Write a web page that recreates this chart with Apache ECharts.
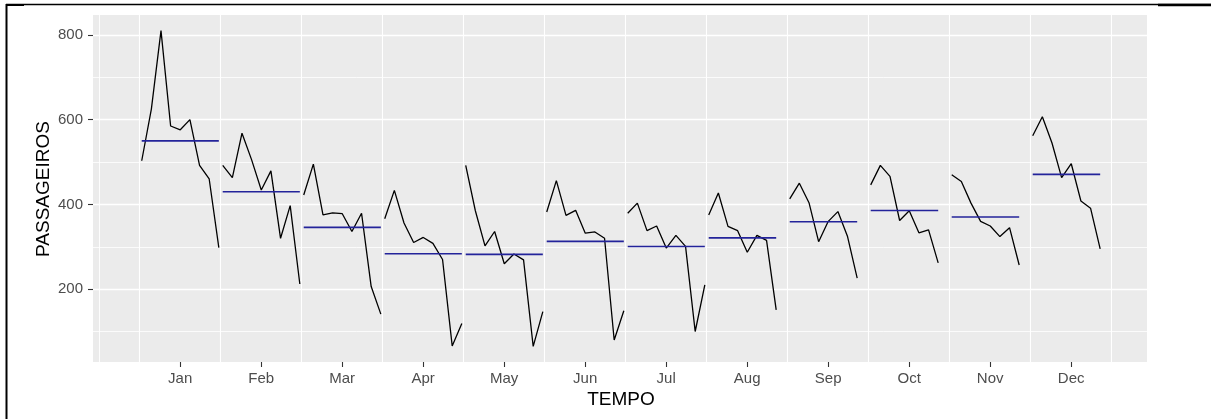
<!DOCTYPE html>
<html>
<head>
<meta charset="utf-8">
<script src="https://cdn.jsdelivr.net/npm/echarts@6/dist/echarts.min.js"></script>
<style>
  html, body { margin: 0; padding: 0; background: #ffffff; }
  #chart { width: 1211px; height: 419px; }
</style>
</head>
<body>
<div id="chart"></div>
<script>
// Monthly passenger counts, one value per year, in time order
const monthLabels = ['Jan', 'Feb', 'Mar', 'Apr', 'May', 'Jun', 'Jul', 'Aug', 'Sep', 'Oct', 'Nov', 'Dec'];
const jan = [503, 625, 810, 585, 576, 600, 492, 460, 298];
const feb = [492, 463, 568, 505, 434, 479, 320, 397, 212];
const mar = [422, 495, 375, 380, 378, 336, 379, 206, 141];
const apr = [366, 433, 356, 310, 322, 308, 270, 66, 119];
const may = [492, 385, 302, 336, 260, 283, 269, 65, 147];
const jun = [382, 456, 374, 386, 332, 335, 320, 80, 149];
const jul = [379, 403, 338, 349, 297, 327, 301, 100, 210];
const aug = [375, 427, 348, 338, 287, 327, 315, 151];
const sep = [413, 450, 404, 312, 360, 383, 324, 226];
const oct = [446, 492, 466, 362, 385, 333, 340, 262];
const nov = [470, 454, 403, 360, 349, 324, 345, 257];
const dec = [562, 607, 545, 463, 496, 408, 391, 295];

const yTickValues = [200, 400, 600, 800];
const yMinorValues = [100, 300, 500, 700];

const seasons = [jan, feb, mar, apr, may, jun, jul, aug, sep, oct, nov, dec];

// each month occupies the unit interval [m, m+1) on the x scale
const X_OFFSET = 0.025;
const X_STEP = 0.119;

const FONT = '"Liberation Sans", Arial, sans-serif';

// panel grid lines (white on grey)
const gridLines = [];
yTickValues.forEach(v => gridLines.push({ yAxis: v, lineStyle: { color: '#ffffff', width: 1.4, type: 'solid' } }));
yMinorValues.forEach(v => gridLines.push({ yAxis: v, lineStyle: { color: '#ffffff', width: 0.8, type: 'solid' } }));
gridLines.push({ xAxis: 0.5, lineStyle: { color: '#ffffff', width: 0.9, type: 'solid' } });
for (let k = 1; k <= 13; k++) {
  gridLines.push({ xAxis: k, lineStyle: { color: '#ffffff', width: 1.1, type: 'solid' } });
}

const series = [{
  type: 'line',
  data: [],
  silent: true,
  z: 1,
  animation: false,
  markLine: {
    z: 1,
    symbol: 'none',
    silent: true,
    animation: false,
    label: { show: false },
    emphasis: { disabled: true },
    data: gridLines
  }
}];

seasons.forEach((vals, m) => {
  const pts = vals.map((v, i) => [m + 1 + X_OFFSET + i * X_STEP, v]);
  const mean = vals.reduce((a, b) => a + b, 0) / vals.length;
  series.push({
    type: 'line',
    data: pts,
    symbol: 'none',
    z: 6,
    animation: false,
    lineStyle: { color: '#000000', width: 1.3 }
  });
  series.push({
    type: 'line',
    data: [[pts[0][0], mean], [pts[pts.length - 1][0], mean]],
    symbol: 'none',
    z: 7,
    animation: false,
    lineStyle: { color: '#23239a', width: 1.6 }
  });
});

const xTickValues = monthLabels.map((_, i) => i + 1.5);

const chart = echarts.init(document.getElementById('chart'), null, { renderer: 'canvas' });
chart.setOption({
  animation: false,
  backgroundColor: '#ffffff',
  grid: {
    left: 93, right: 64, top: 15, bottom: 57,
    show: true,
    backgroundColor: '#EBEBEB',
    borderWidth: 0,
    containLabel: false
  },
  xAxis: {
    type: 'value',
    min: 0.4235,
    max: 13.436,
    axisLine: { show: false, onZero: false },
    splitLine: { show: false },
    axisTick: {
      show: true,
      customValues: xTickValues,
      length: 5,
      lineStyle: { color: '#333333', width: 1.1 }
    },
    axisLabel: {
      customValues: xTickValues,
      formatter: v => monthLabels[Math.round(v - 1.5)],
      color: '#4D4D4D',
      fontSize: 15,
      fontFamily: FONT,
      margin: 9
    }
  },
  yAxis: {
    type: 'value',
    min: 28,
    max: 847,
    axisLine: { show: false, onZero: false },
    splitLine: { show: false },
    axisTick: {
      show: true,
      customValues: yTickValues,
      length: 5,
      lineStyle: { color: '#333333', width: 1.1 }
    },
    axisLabel: {
      customValues: yTickValues,
      color: '#4D4D4D',
      fontSize: 15,
      fontFamily: FONT,
      margin: 10
    }
  },
  graphic: [
    {
      type: 'text', x: 621, y: 400, z: 10,
      style: { text: 'TEMPO', fill: '#000000', font: '19px ' + FONT, textAlign: 'center', textVerticalAlign: 'middle' }
    },
    {
      type: 'text', x: 44, y: 189, rotation: Math.PI / 2, z: 10,
      style: { text: 'PASSAGEIROS', fill: '#000000', font: '19px ' + FONT, textAlign: 'center', textVerticalAlign: 'middle' }
    },
    { type: 'line', z: 10, shape: { x1: 6.5, y1: 4, x2: 6.5, y2: 419 }, style: { stroke: '#000000', lineWidth: 2 } },
    { type: 'line', z: 10, shape: { x1: 6, y1: 4.5, x2: 1211, y2: 4.5 }, style: { stroke: '#000000', lineWidth: 1.3 } },
    { type: 'line', z: 10, shape: { x1: 6, y1: 5, x2: 24, y2: 5 }, style: { stroke: '#000000', lineWidth: 2 } },
    { type: 'line', z: 10, shape: { x1: 1158, y1: 5, x2: 1211, y2: 5 }, style: { stroke: '#000000', lineWidth: 2.5 } }
  ],
  series: series
});
</script>
</body>
</html>
